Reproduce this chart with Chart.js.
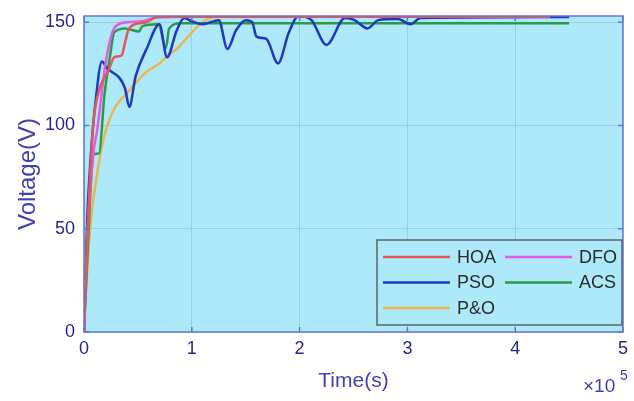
<!DOCTYPE html>
<html lang="en">
<head>
<meta charset="UTF-8">
<title>Voltage response</title>
<script src="https://cdn.jsdelivr.net/npm/chart.js"></script>
<style>
  html, body { margin: 0; padding: 0; background: #fff; }
  #wrap { width: 634px; height: 401px; }
</style>
</head>
<body>
<div id="wrap"><canvas id="voltChart"></canvas></div>
<script>
  // time in units of 1e5 s, voltage in V
  const hoaTime = [0, 0.03, 0.083, 0.13, 0.23, 0.28, 0.35, 0.38, 0.41, 0.47, 0.58, 0.67, 1.0, 4.32];
  const hoaVolt = [0, 45, 99, 115, 127, 133, 134, 140, 146, 149, 150, 152.4, 152.6, 152.6];

  const dfoTime = [0, 0.03, 0.09, 0.12, 0.2, 0.28, 0.4, 0.54, 0.7, 1.0, 4.32];
  const dfoVolt = [0, 45, 88, 97, 130, 147, 150, 150.5, 152.5, 152.8, 152.8];

  const psoTime = [0, 0.03, 0.055, 0.074, 0.1, 0.166, 0.21, 0.38, 0.42, 0.48, 0.58, 0.7, 0.77, 0.86, 0.93, 1.0, 1.1,
                   1.25, 1.33, 1.41, 1.5, 1.56, 1.6, 1.69, 1.8, 1.9, 1.99, 2.11, 2.25, 2.42, 2.51, 2.63, 2.73, 2.91,
                   3.03, 3.12, 4.5];
  const psoVolt = [0, 55, 79, 93, 108, 131, 128, 118, 109, 124, 137, 149, 133, 146, 152, 150.5, 149,
                   151, 137, 146, 151, 150, 143, 142, 130, 145, 153, 151, 139, 152, 151, 147, 151, 151.5,
                   149, 152, 152.5];

  const acsTime = [0, 0.03, 0.09, 0.14, 0.19, 0.24, 0.28, 0.38, 0.51, 0.54, 0.69, 0.76, 0.79, 0.9, 4.5];
  const acsVolt = [0, 35, 86, 86.5, 115, 133, 145, 147, 145.5, 148, 149, 137.5, 147, 149.5, 149.5];

  const poTime = [0, 0.01, 0.055, 0.12, 0.19, 0.27, 0.42, 0.58, 0.7, 0.76, 0.88, 1.0, 1.1, 1.22, 4.32];
  const poVolt = [0, 11, 49, 76, 95, 107, 117, 126, 130, 133, 138, 145, 150, 152.5, 152.9];

  const xTicks = [0, 1, 2, 3, 4, 5];
  const yTicks = [0, 50, 100, 150];

  const legendRows = [['HOA', 'DFO'], ['PSO', 'ACS'], ['P&O']];

  const FONT = '"Liberation Sans", Arial, Helvetica, sans-serif';

  function pts(ts, vs) {
    return ts.map((t, i) => ({ x: t, y: vs[i] }));
  }

  function series(label, ts, vs, color) {
    return {
      label: label,
      data: pts(ts, vs),
      borderColor: color,
      backgroundColor: color,
      borderWidth: 2.5,
      pointRadius: 0,
      cubicInterpolationMode: 'monotone',
      fill: false
    };
  }

  const plotFrame = {
    id: 'plotFrame',
    beforeDraw(chart) {
      const { ctx, chartArea: a } = chart;
      ctx.save();
      ctx.fillStyle = '#ade9f9';
      ctx.fillRect(a.left, a.top, a.right - a.left, a.bottom - a.top);
      ctx.restore();
    },
    afterDraw(chart) {
      const { ctx, chartArea: a, scales } = chart;
      ctx.save();
      ctx.strokeStyle = '#6475d6';
      ctx.lineWidth = 1.5;
      ctx.beginPath();
      xTicks.forEach(v => {
        const x = scales.x.getPixelForValue(v);
        ctx.moveTo(x, a.bottom); ctx.lineTo(x, a.bottom - 5);
        ctx.moveTo(x, a.top); ctx.lineTo(x, a.top + 5);
      });
      yTicks.forEach(v => {
        const y = scales.y.getPixelForValue(v);
        ctx.moveTo(a.left, y); ctx.lineTo(a.left + 5, y);
        ctx.moveTo(a.right, y); ctx.lineTo(a.right - 5, y);
      });
      ctx.stroke();
      ctx.strokeRect(a.left, a.top, a.right - a.left, a.bottom - a.top);

      // legend box in the lower right corner
      const bx = 377, by = 240, bw = 245, bh = 85;
      ctx.fillStyle = '#ade9f9';
      ctx.fillRect(bx, by, bw, bh);
      ctx.strokeStyle = '#5a6468';
      ctx.lineWidth = 1.5;
      ctx.strokeRect(bx, by, bw, bh);
      ctx.font = '18px ' + FONT;
      ctx.textBaseline = 'middle';
      ctx.textAlign = 'left';
      const colX = [383, 505];
      legendRows.forEach((row, r) => {
        const y = by + 17 + r * 25.5;
        row.forEach((name, c) => {
          const ds = chart.data.datasets.find(d => d.label === name);
          ctx.strokeStyle = ds.borderColor;
          ctx.lineWidth = 2.5;
          ctx.beginPath();
          ctx.moveTo(colX[c], y);
          ctx.lineTo(colX[c] + 67, y);
          ctx.stroke();
          ctx.fillStyle = '#2a2a2a';
          ctx.fillText(name, colX[c] + 74, y + 1);
        });
      });

      // axis exponent
      ctx.fillStyle = '#4040b8';
      ctx.textBaseline = 'alphabetic';
      ctx.font = '19px ' + FONT;
      ctx.fillText('\u00d710', 583, 392);
      ctx.font = '14px ' + FONT;
      ctx.fillText('5', 620, 380);
      ctx.restore();
    }
  };

  new Chart(document.getElementById('voltChart'), {
    type: 'line',
    data: {
      datasets: [
        series('HOA', hoaTime, hoaVolt, '#e05a55'),
        series('DFO', dfoTime, dfoVolt, '#e25ae6'),
        series('PSO', psoTime, psoVolt, '#2236c0'),
        series('ACS', acsTime, acsVolt, '#2e9a48'),
        series('P&O', poTime, poVolt, '#e8b850')
      ]
    },
    options: {
      responsive: true,
      maintainAspectRatio: false,
      animation: false,
      layout: { padding: { top: 16, right: 7, left: 0, bottom: 0 } },
      plugins: { legend: { display: false }, tooltip: { enabled: false } },
      scales: {
        x: {
          type: 'linear',
          min: 0,
          max: 5,
          afterFit(s) { s.height = 69; },
          afterBuildTicks(s) { s.ticks = xTicks.map(v => ({ value: v })); },
          border: { display: false },
          grid: { color: 'rgba(90,140,210,0.28)', drawTicks: false },
          ticks: { padding: 6, color: '#262693', font: { family: FONT, size: 18 } },
          title: {
            display: true, text: 'Time(s)', color: '#4040b8',
            font: { family: FONT, size: 21 }, padding: { top: 0, bottom: 7 }
          }
        },
        y: {
          min: 0,
          max: 153,
          afterFit(s) { s.width = 84; },
          afterBuildTicks(s) { s.ticks = yTicks.map(v => ({ value: v })); },
          border: { display: false },
          // invisible tick marks only push the labels away from the axis
          grid: {
            color: 'rgba(90,140,210,0.28)', drawTicks: true,
            tickLength: 4, tickColor: 'rgba(0,0,0,0)'
          },
          ticks: { padding: 5, color: '#262693', font: { family: FONT, size: 18 } },
          title: {
            display: true, text: 'Voltage(V)', color: '#4040b8',
            font: { family: FONT, size: 24 }, padding: { top: 14, bottom: 0 }
          }
        }
      }
    },
    plugins: [plotFrame]
  });
</script>
</body>
</html>
